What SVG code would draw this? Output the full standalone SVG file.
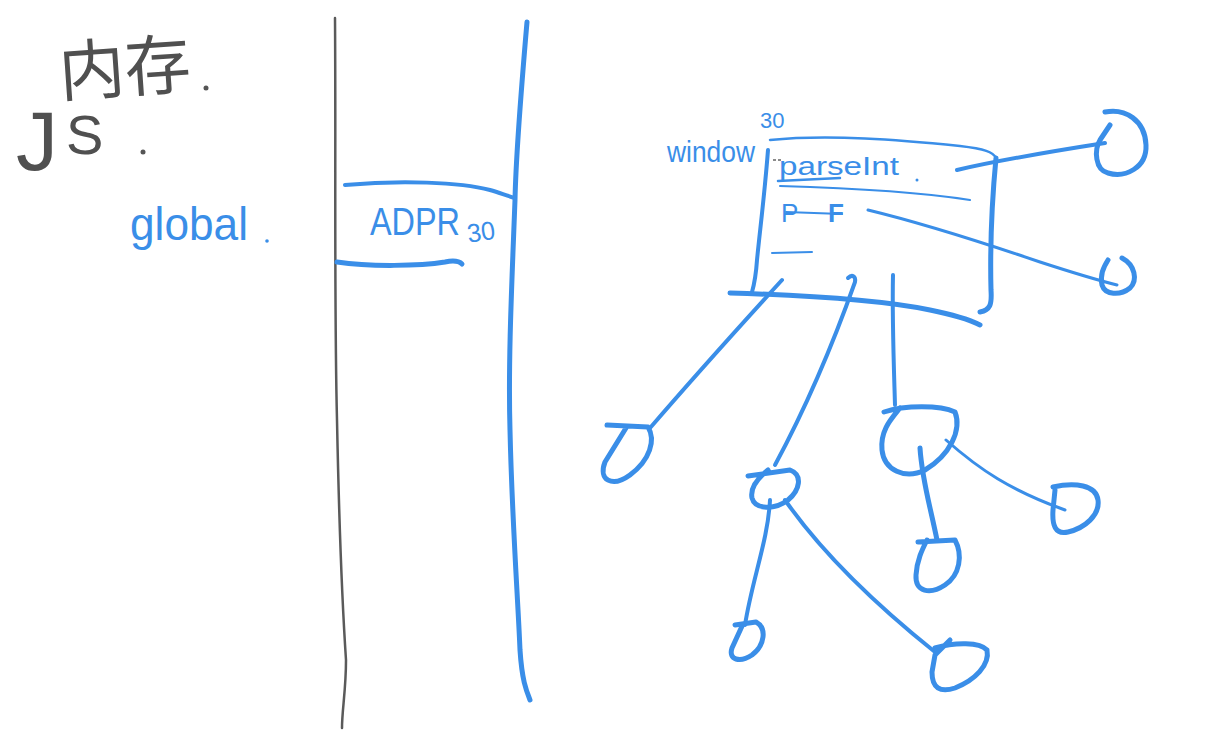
<svg xmlns="http://www.w3.org/2000/svg" width="1215" height="735" viewBox="0 0 1215 735">
<style>
.b{fill:none;stroke:#3a8ee8;stroke-linecap:round;stroke-linejoin:round}
.g{fill:none;stroke:#5a5a5a;stroke-linecap:round;stroke-linejoin:round}
.t{fill:#3a8ee8;font-family:"Liberation Sans","Noto Sans",sans-serif}
.tg{fill:#505050;font-family:"Liberation Sans","Noto Sans CJK SC",sans-serif}
.n{fill:none;stroke:#3a8ee8;stroke-width:5;stroke-linecap:round;stroke-linejoin:round}
</style>
<rect width="1215" height="735" fill="#ffffff"/>

<g id="title">
<text class="tg" x="58" y="92" font-size="66" font-family="Noto Sans CJK SC,sans-serif" transform="rotate(-4 120 60)">内存</text>
<text class="tg" x="16" y="170" font-size="84" font-weight="300">J</text>
<text class="tg" x="66" y="154" font-size="56" font-weight="300">S</text>
<circle cx="206" cy="88" r="2.5" fill="#555"/>
<circle cx="143" cy="152" r="2.5" fill="#555"/>
</g>

<g id="global">
<text class="t" x="130" y="240" font-size="46" textLength="118" lengthAdjust="spacingAndGlyphs">global</text>
<circle cx="267" cy="241" r="1.8" fill="#3a8ee8"/>
</g>

<g id="dividers">
<path class="g" stroke-width="2.5" d="M335,18 C336,150 334,300 337,420 C339,520 342,600 346,660 C346,690 342,710 342,728"/>
<path class="b" stroke-width="5" d="M527,22 C522,80 516,150 515,200 C512,280 508,360 510,430 C512,520 518,600 520,650 C522,680 526,690 530,700"/>
</g>

<g id="adpr">
<path class="b" stroke-width="4" d="M345,185 C400,180 460,182 490,190 C500,193 508,196 515,198"/>
<path class="b" stroke-width="5" d="M337,262 C370,267 420,266 445,262 C455,260 460,262 462,264"/>
<text class="t" x="370" y="235" font-size="38" textLength="90" lengthAdjust="spacingAndGlyphs">ADPR</text>
<text class="t" x="467" y="241" font-size="26" textLength="28" lengthAdjust="spacingAndGlyphs" transform="rotate(-8 480 232)">30</text>
</g>

<g id="window">
<text class="t" x="667" y="162" font-size="30" textLength="88" lengthAdjust="spacingAndGlyphs">window</text>
<text class="t" x="760" y="128" font-size="22">30</text>
<path class="b" stroke-width="2.5" d="M770,140 C830,134 900,140 960,146 C985,149 993,152 996,158"/>
<path class="b" stroke-width="5" d="M996,158 C992,200 990,250 991,290 C992,305 990,310 980,312"/>
<path class="b" stroke-width="4" d="M768,150 C765,190 760,230 757,260 C756,275 754,285 752,292"/>
<path class="b" stroke-width="5" d="M730,293 C800,295 880,300 930,310 C955,315 970,320 980,325"/>
<text class="t" x="779" y="175" font-size="26" textLength="120" lengthAdjust="spacingAndGlyphs">parseInt</text>
<circle cx="917" cy="180" r="1.5" fill="#3a8ee8"/>
<path class="b" stroke-width="2.5" d="M778,181 L840,178"/>
<path class="b" stroke-width="2" d="M780,186 C850,188 920,192 970,200"/>
<text class="t" x="781" y="222" font-size="26">P</text>
<text class="t" x="828" y="222" font-size="26" font-weight="bold">F</text>
<path class="b" stroke-width="2" d="M786,212 L842,214"/>
<path class="b" stroke-width="2" d="M772,253 L812,252"/>
<path d="M773,160 L781,160" stroke="#666" stroke-width="1.5" stroke-dasharray="3,2"/>
</g>

<g id="connectors">
<path class="b" stroke-width="4" d="M957,170 C1000,160 1060,150 1105,143"/>
<path class="b" stroke-width="3" d="M868,210 C930,225 990,245 1040,262 C1080,275 1105,282 1117,285"/>
<path class="b" stroke-width="4" d="M782,280 C750,315 700,370 650,428"/>
<path class="b" stroke-width="4" d="M848,278 C852,274 856,276 855,282 C838,330 810,400 775,465"/>
<path class="b" stroke-width="4" d="M893,275 C892,320 894,370 895,405"/>
<path class="b" stroke-width="5" d="M920,448 C922,480 930,505 937,540"/>
<path class="b" stroke-width="3" d="M946,440 C980,470 1010,490 1065,510"/>
<path class="b" stroke-width="4" d="M770,500 C768,540 752,580 745,625"/>
<path class="b" stroke-width="4" d="M785,500 C820,550 870,600 935,652"/>
</g>

<g id="node-h"><path class="n" d="M1105,112 C1125,108 1145,120 1146,145 C1147,168 1125,178 1108,173 C1095,170 1094,150 1100,140 L1110,125"/></g>
<g id="node-i"><path class="n" d="M1122,258 C1135,265 1138,280 1130,288 C1120,296 1105,295 1102,285 C1100,275 1103,268 1108,260"/></g>
<g id="node-a"><path class="n" d="M607,425 L648,427 C656,440 650,460 630,475 C612,488 598,480 605,462 L626,428"/></g>
<g id="node-b"><path class="n" d="M748,476 L790,470 C803,475 800,490 788,500 C775,510 755,510 752,498 C750,488 758,478 768,470"/></g>
<g id="node-c"><path class="n" d="M884,412 C905,405 940,405 955,412 C962,430 950,455 925,470 C905,480 884,470 882,450 C880,430 892,418 900,408"/></g>
<g id="node-d"><path class="n" d="M918,542 L955,540 C963,555 960,575 945,585 C930,595 915,592 916,575 C917,560 922,550 927,540"/></g>
<g id="node-e"><path class="n" d="M1053,487 C1075,482 1096,485 1098,500 C1100,515 1085,528 1068,532 C1055,535 1052,525 1053,510 L1055,490"/></g>
<g id="node-f"><path class="n" d="M735,625 L756,622 C767,628 765,645 752,655 C740,663 728,660 732,648 L743,624"/></g>
<g id="node-g"><path class="n" d="M935,648 C955,642 980,642 987,650 C990,665 975,680 955,688 C940,693 932,688 932,672 L935,655 L950,640"/></g>
</svg>
